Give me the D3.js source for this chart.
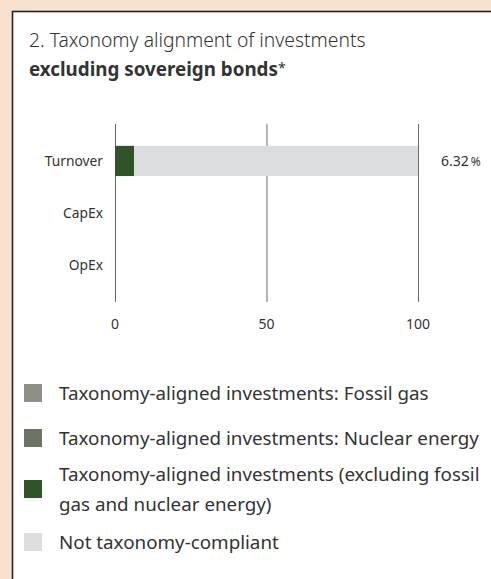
<!DOCTYPE html>
<html>
<head>
<meta charset="utf-8">
<script src="https://cdn.jsdelivr.net/npm/d3@7"></script>
<style>
  body { margin: 0; background: #f9e1cf; }
  svg { display: block; font-family: "Noto Sans", sans-serif; }
</style>
</head>
<body>
<div id="chart"></div>
<script>
// data
const categories = ["Turnover", "CapEx", "OpEx"];
const seriesNames = [
  "Taxonomy-aligned investments: Fossil gas",
  "Taxonomy-aligned investments: Nuclear energy",
  "Taxonomy-aligned investments (excluding fossil gas and nuclear energy)",
  "Not taxonomy-compliant"
];
const fossilGas = [0, 0, 0];
const nuclear = [0, 0, 0];
const aligned = [6.32, 0, 0];
const notCompliant = [93.68, 0, 0];
const valueLabels = ["6.32", null, null];
const xTicks = [0, 50, 100];

const colors = ["#8f9084", "#6b7363", "#2e5428", "#dcdddf"];
const legendLines = [
  ["Taxonomy-aligned investments: Fossil gas"],
  ["Taxonomy-aligned investments: Nuclear energy"],
  ["Taxonomy-aligned investments (excluding fossil", "gas and nuclear energy)"],
  ["Not taxonomy-compliant"]
];

const width = 491, height = 579;
const textColor = "#333";

const svg = d3.select("#chart").append("svg")
    .attr("width", width)
    .attr("height", height);

// panel
svg.append("rect")
    .attr("x", 12.5).attr("y", 11.5)
    .attr("width", width + 20).attr("height", height + 20)
    .attr("fill", "#fff")
    .attr("stroke", "#222")
    .attr("stroke-width", 1.6);

// title
svg.append("text")
    .attr("x", 29).attr("y", 47)
    .attr("font-size", 19.3).attr("fill", textColor)
    .attr("font-weight", 300)
    .text("2. Taxonomy alignment of investments");
svg.append("text")
    .attr("x", 29).attr("y", 76)
    .attr("font-size", 18.8).attr("fill", textColor)
    .attr("font-weight", "bold")
    .text("excluding sovereign bonds")
  .append("tspan")
    .attr("font-weight", "normal")
    .attr("font-size", 14)
    .attr("dy", -3)
    .text("*");

const x = d3.scaleLinear().domain([0, 100]).range([115, 418]);
const y = d3.scaleBand().domain(categories).range([124, 302]).padding(0.42);

// gridlines
svg.append("g")
  .selectAll("line")
  .data(xTicks)
  .join("line")
    .attr("x1", d => x(d) + 0.5).attr("x2", d => x(d) + 0.5)
    .attr("y1", 124).attr("y2", 302)
    .attr("stroke", "#6a6a6a")
    .attr("stroke-width", 1);

// stacked bars
const rows = categories.map((c, i) => ({
  cat: c, fossil: fossilGas[i], nuclear: nuclear[i], aligned: aligned[i], rest: notCompliant[i]
}));
const stack = d3.stack().keys(["fossil", "nuclear", "aligned", "rest"]);
const stacked = stack(rows);

svg.append("g")
  .selectAll("g")
  .data(stacked)
  .join("g")
    .attr("fill", (d, i) => colors[i])
  .selectAll("rect")
  .data(d => d.filter(s => s[1] - s[0] > 0))
  .join("rect")
    .attr("x", d => x(d[0]))
    .attr("width", d => x(d[1]) - x(d[0]))
    .attr("y", d => y(d.data.cat))
    .attr("height", y.bandwidth());

// y labels
svg.append("g")
  .selectAll("text")
  .data(categories)
  .join("text")
    .attr("x", 103)
    .attr("y", d => y(d) + y.bandwidth() / 2)
    .attr("dy", "0.35em")
    .attr("text-anchor", "end")
    .attr("font-size", 13.8)
    .attr("fill", textColor)
    .text(d => d);

// value labels
const vl = svg.append("g")
  .selectAll("text")
  .data(categories.map((c, i) => ({ cat: c, label: valueLabels[i] })).filter(d => d.label))
  .join("text")
    .attr("x", 441)
    .attr("y", d => y(d.cat) + y.bandwidth() / 2)
    .attr("dy", "0.35em")
    .attr("font-size", 14)
    .attr("fill", textColor)
    .text(d => d.label);
vl.append("tspan").attr("font-size", 12).attr("dx", 2).text("%");

// x tick labels
svg.append("g")
  .selectAll("text")
  .data(xTicks)
  .join("text")
    .attr("x", d => x(d))
    .attr("y", 324)
    .attr("dy", "0.35em")
    .attr("text-anchor", "middle")
    .attr("font-size", 14)
    .attr("fill", textColor)
    .text(d => d);

// legend
const legendY = [393, 438, 489, 542];
const lg = svg.append("g")
  .selectAll("g")
  .data(seriesNames)
  .join("g")
    .attr("transform", (d, i) => `translate(24,${legendY[i]})`);
lg.append("rect")
    .attr("x", 0).attr("y", -9)
    .attr("width", 18).attr("height", 18)
    .attr("fill", (d, i) => colors[i]);
lg.append("text")
    .attr("fill", textColor)
    .attr("font-size", 18.8)
    .selectAll("tspan")
    .data((d, i) => legendLines[i].map((t, j, arr) => ({ t, j, n: arr.length })))
    .join("tspan")
      .attr("x", 35)
      .attr("y", d => (d.j - (d.n - 1) / 2) * 30)
      .attr("dy", "0.35em")
      .text(d => d.t);
</script>
</body>
</html>
